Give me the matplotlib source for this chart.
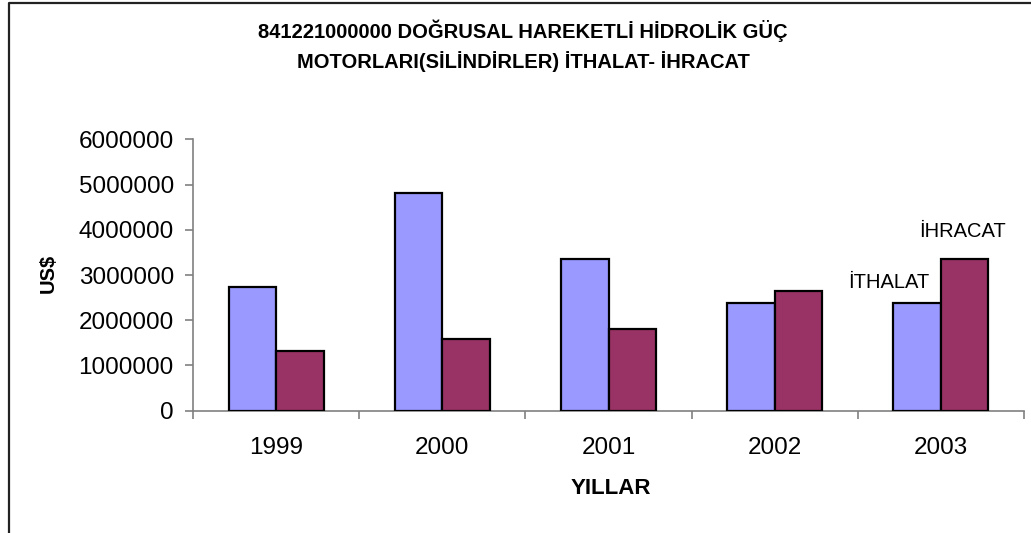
import matplotlib
matplotlib.use("Agg")
import matplotlib.pyplot as plt
from matplotlib.lines import Line2D
import numpy as np

years = ["1999", "2000", "2001", "2002", "2003"]
ithalat = [2740000, 4820000, 3360000, 2390000, 2390000]
ihracat = [1320000, 1590000, 1810000, 2650000, 3360000]
yticks = [0, 1000000, 2000000, 3000000, 4000000, 5000000, 6000000]
title1 = "841221000000 DOĞRUSAL HAREKETLİ HİDROLİK GÜÇ"
title2 = "MOTORLARI(SİLİNDİRLER) İTHALAT- İHRACAT"

plt.rcParams['font.family'] = ['Liberation Sans', 'DejaVu Sans']

W, H = 1031, 533
fig = plt.figure(figsize=(W / 100, H / 100), dpi=100)

def fx(px):
    return px / W

def fy(py):
    return 1 - py / H

ax = fig.add_axes([fx(193), fy(410.7), fx(1024) - fx(193), fy(139.3) - fy(410.7)])

x = np.arange(len(years))
bw = 1 / 3.5
ax.bar(x - bw / 2, ithalat, width=bw, color="#9999FF", edgecolor="black", linewidth=1.6, zorder=3)
ax.bar(x + bw / 2, ihracat, width=bw, color="#993366", edgecolor="black", linewidth=1.6, zorder=3)

ax.set_xlim(-0.5, len(years) - 0.5)
ax.set_ylim(0, 6000000)
ax.set_yticks(yticks)
ax.set_yticklabels([str(v) for v in yticks], fontsize=17.5)
ax.set_xticks(np.arange(len(years) + 1) - 0.5)
ax.set_xticklabels([])
ax.set_xticks(x, minor=True)
ax.set_xticklabels(years, minor=True, fontsize=17.5)
ax.tick_params(axis='x', which='minor', length=0, pad=19)
ax.tick_params(axis='x', which='major', length=5.8, color="#808080", width=1.2, direction='out')
ax.tick_params(axis='y', length=5.8, color="#808080", width=1.2, direction='out', pad=8)

for s in ["top", "right"]:
    ax.spines[s].set_visible(False)
for s in ["left", "bottom"]:
    ax.spines[s].set_color("#808080")
    ax.spines[s].set_linewidth(1.2)

ax.text(3.685, 2830000, "İTHALAT", fontsize=14.5, ha="center", va="center")
ax.text(4.13, 3960000, "İHRACAT", fontsize=14.5, ha="center", va="center")

fig.text(fx(523), fy(31), title1, fontsize=14.5, fontweight="bold", ha="center", va="center")
fig.text(fx(523), fy(62), title2, fontsize=14.5, fontweight="bold", ha="center", va="center")
fig.text(fx(48), fy(273), "US$", fontsize=14.5, fontweight="bold", rotation=90, ha="center", va="center")
fig.text(fx(611), fy(489), "YILLAR", fontsize=16, fontweight="bold", ha="center", va="center")

# chart frame (left and top edges visible)
fig.add_artist(Line2D([fx(8.5), fx(8.5), fx(W)], [0, fy(2.5), fy(2.5)], color="#222222", linewidth=1.6, transform=fig.transFigure))

fig.savefig("out.png", dpi=100, facecolor="white")
